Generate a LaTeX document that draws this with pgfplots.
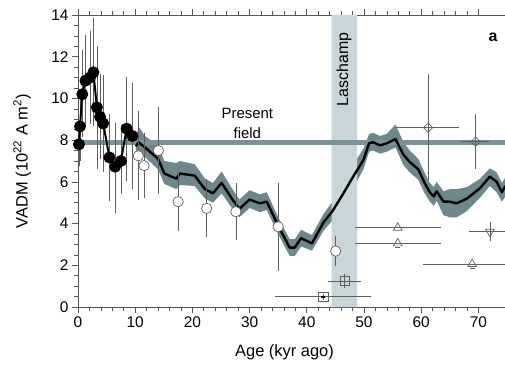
\documentclass[border=0pt]{standalone}
\usepackage{fontspec}
\setmainfont{Liberation Sans}
\usepackage{pgfplots}
\pgfplotsset{compat=1.18}
\usepackage{pgfplotstable}
\usepgfplotslibrary{fillbetween}

\definecolor{bandc}{HTML}{6E878C}
\definecolor{fieldc}{HTML}{7D9297}
\definecolor{laschc}{HTML}{C8D5D9}
\definecolor{spine}{HTML}{555555}
\definecolor{barc}{HTML}{5F5F5F}

% stacked VADM curve with its uncertainty band
\pgfplotstableread{
x     y     lo    hi
10.1  7.70  7.35  8.05
10.6  7.90  7.50  8.65
11.7  7.65  7.20  8.20
13.2  7.30  6.80  7.90
14.0  7.10  6.60  7.70
15.1  6.40  5.90  7.00
17.2  6.15  5.65  6.90
17.8  6.40  5.85  7.00
20.4  6.30  5.80  6.85
22.2  5.65  5.20  6.15
23.6  5.45  5.00  5.95
25.1  5.95  5.45  6.50
26.9  5.20  4.75  5.70
28.2  4.70  4.30  5.15
30.0  5.15  4.75  5.60
31.8  4.97  4.55  5.40
33.0  5.05  4.65  5.50
35.0  3.90  3.50  4.30
37.0  2.85  2.45  3.25
37.9  2.85  2.45  3.25
39.0  3.30  2.90  3.70
40.9  3.05  2.70  3.45
42.9  4.05  3.65  4.45
44.5  4.60  4.15  5.05
46.4  5.45  4.90  6.00
48.1  6.25  5.70  6.80
49.9  7.05  6.60  7.60
50.9  7.85  7.45  8.30
51.6  7.90  7.50  8.35
52.8  7.75  7.35  8.20
54.0  7.85  7.45  8.30
55.5  8.05  7.65  8.75
56.9  7.30  6.80  7.90
58.0  6.95  6.45  7.50
59.5  6.60  6.10  7.10
60.5  6.00  5.50  6.50
61.5  5.50  5.05  5.95
62.2  5.30  4.85  5.75
62.7  5.55  5.10  6.00
63.9  5.05  4.40  5.55
65.0  5.05  4.30  5.65
66.2  4.97  4.30  5.65
68.0  5.20  4.60  5.75
70.3  5.70  5.25  6.15
72.0  6.25  5.80  6.65
73.2  6.00  5.50  6.45
74.1  5.50  5.05  5.95
74.7  5.80  5.30  6.20
}\stack

\begin{document}
\begin{tikzpicture}
\begin{axis}[
  scale only axis, width=427bp, height=292bp,
  xmin=0, xmax=74.65, ymin=0, ymax=14,
  clip=false,
  axis x line=box, axis y line=left,
  axis line style={-, spine, line width=0.8pt},
  xtick={0,10,...,70}, ytick={0,2,...,14},
  minor x tick num=4, minor y tick num=3,
  tick align=outside, major tick length=6bp, minor tick length=3.5bp,
  tick style={spine, line width=0.7pt},
  ticklabel style={font=\fontsize{15.5}{17}\selectfont},
  /pgf/number format/assume math mode=true,
  xlabel={Age (kyr ago)},
  ylabel={VADM (10\textsuperscript{22} A m\textsuperscript{2})},
  label style={font=\fontsize{16.5}{19}\selectfont},
  xlabel style={at={(axis description cs:0.4836,-0.171)}, anchor=base},
  ylabel style={at={(axis description cs:-0.131,0.5)}, anchor=center},
]
% Laschamp excursion
\addplot[draw=none, fill=laschc] coordinates {(44.35,0) (48.8,0) (48.8,14) (44.35,14)} \closedcycle;
% present field
\addplot[fieldc, line width=5pt] coordinates {(0,7.9) (74.65,7.9)};

\addplot[name path=up, draw=none] table[x=x, y=hi] {\stack};
\addplot[name path=dn, draw=none] table[x=x, y=lo] {\stack};
\addplot[bandc, draw=none] fill between[of=up and dn];
\addplot[black, line width=2.4pt, line join=round] table[x=x, y=y] {\stack};

% error bars of the filled circles
\addplot[draw=none, mark=none,
  error bars/.cd, y dir=both, y explicit,
  error bar style={draw=barc, line width=0.6pt},
  error mark options={draw=barc, mark size=3pt, line width=0.6pt}]
coordinates {
  (0.17,7.8) += (0,0.7) -= (0,0.9)
  (0.35,8.66) +- (0,1.5)
  (0.75,10.2) += (0,2.0) -= (0,1.9)
  (1.3,10.85) +- (0,2.05)
  (2.1,11.0) +- (0,2.1)
  (2.7,11.25) +- (0,2.45)
  (3.3,9.57) +- (0,2.82)
  (3.85,9.12) +- (0,1.9)
  (4.4,8.8) +- (0,2.2)
  (5.5,7.17) +- (0,1.95)
  (6.5,6.73) += (0,1.97) -= (0,2.08)
  (7.5,7.0) += (0,1.6) -= (0,1.44)
  (8.5,8.55) +- (0,2.35)
  (9.5,8.2) +- (0,2.4)
};
\addplot[black, line width=2pt, line join=round, mark=*, mark size=5pt,
  mark options={solid, fill=black, draw=black}]
coordinates {
  (0.17,7.8) (0.35,8.66) (0.75,10.2) (1.3,10.85) (2.1,11.0) (2.7,11.25)
  (3.3,9.57) (3.85,9.12) (4.4,8.8) (5.5,7.17) (6.5,6.73) (7.5,7.0)
  (8.5,8.55) (9.5,8.2)
};

% open circles
\addplot[only marks, mark=*, mark size=5.2pt,
  mark options={fill=white, draw=barc, line width=0.7pt},
  error bars/.cd, y dir=both, y explicit,
  error bar style={draw=barc, line width=0.6pt},
  error mark options={draw=barc, mark size=3pt, line width=0.6pt}]
coordinates {
  (10.55,7.25) +- (0,2.0)
  (11.55,6.78) +- (0,1.4)
  (14.05,7.5) +- (0,1.95)
  (17.5,5.05) +- (0,1.24)
  (22.5,4.73) +- (0,1.24)
  (27.6,4.57) +- (0,1.22)
  (35.0,3.85) +- (0,1.96)
  (45.05,2.68) +- (0,0.57)
};

% diamonds
\addplot[only marks, mark=square, mark size=3.3pt,
  mark options={rotate=45, fill=white, draw=barc, line width=0.7pt},
  error bars/.cd, x dir=both, x explicit, y dir=both, y explicit,
  error bar style={draw=barc, line width=0.6pt},
  error mark options={draw=barc, mark size=3pt, line width=0.6pt}]
coordinates {
  (61.2,8.6) += (4.9,2.44) -= (5.1,2.38)
  (69.5,7.93) += (1.8,1.19) -= (2.1,1.17)
};

% triangles
\addplot[only marks, mark=triangle, mark size=5pt,
  mark options={fill=white, draw=barc, line width=0.7pt},
  error bars/.cd, x dir=both, x explicit,
  error bar style={draw=barc, line width=0.6pt},
  error mark options={draw=barc, mark size=3pt, line width=0.6pt}]
coordinates {
  (55.9,3.8) += (7.1,0) -= (7.0,0)
  (55.9,3.05) += (7.1,0) -= (7.0,0)
  (68.9,2.06) += (8.0,0) -= (8.0,0)
};
\addplot[only marks, mark=-, mark size=2.5pt, mark options={draw=barc, line width=1pt}]
coordinates {(55.9,2.85) (68.9,1.86)};
\addplot[only marks, mark=triangle, mark size=5pt,
  mark options={rotate=180, fill=white, draw=barc, line width=0.7pt},
  error bars/.cd, x dir=both, x explicit, y dir=both, y explicit,
  error bar style={draw=barc, line width=0.6pt},
  error mark options={draw=barc, mark size=3pt, line width=0.6pt}]
coordinates {
  (72.0,3.61) += (3.0,0.3) -= (3.1,0.28)
};

% squares
\addplot[only marks, mark=square, mark size=4.6pt,
  mark options={fill=white, draw=barc, line width=0.7pt},
  error bars/.cd, x dir=both, x explicit, y dir=both, y explicit,
  error bar style={draw=barc, line width=0.6pt},
  error mark options={draw=barc, mark size=3pt, line width=0.6pt}]
coordinates {
  (46.6,1.25) += (2.3,0.2) -= (2.4,0.2)
  (42.9,0.49) += (7.85,0) -= (7.9,0)
};
\addplot[only marks, mark=|, mark size=4.4pt, mark options={draw=barc, line width=0.7pt}]
coordinates {(46.6,1.25)};
\addplot[only marks, mark=-, mark size=2pt, mark options={draw=black, line width=1.6pt}]
coordinates {(42.9,0.49)};

\node[align=center, font=\fontsize{15}{20}\selectfont] at (axis cs:29.6,8.82) {Present\\field};
\node[rotate=90, font=\fontsize{16}{18}\selectfont] at (axis cs:46.5,11.4) {Laschamp};
\node[font=\bfseries\fontsize{16}{18}\selectfont] at (axis cs:72.55,12.94) {a};
\end{axis}
\pgfresetboundingbox
\path[use as bounding box] (-78bp,-62bp) rectangle (427bp,307bp);
\end{tikzpicture}
\end{document}
